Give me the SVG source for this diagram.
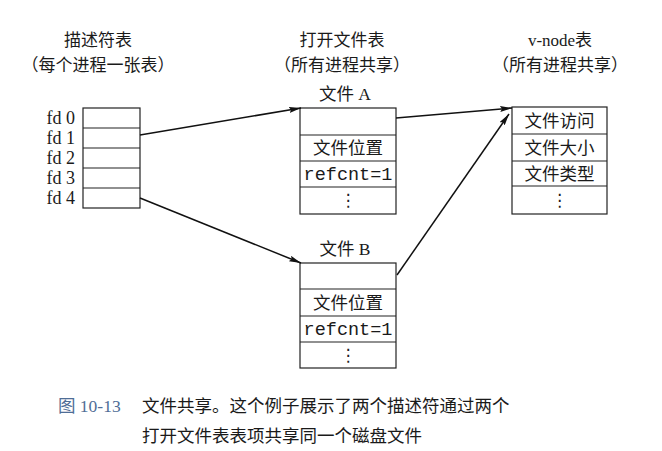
<svg xmlns="http://www.w3.org/2000/svg" width="662" height="451" viewBox="0 0 662 451">
  <defs>
    <marker id="arrow" viewBox="0 0 12 6" refX="12" refY="3" markerWidth="12" markerHeight="6" markerUnits="userSpaceOnUse" orient="auto">
      <path d="M0,0 L12,3 L0,6 L2,3 Z" fill="#111"/>
    </marker>
    <style>
      .cell { fill: #fff; stroke: #222; stroke-width: 1.2; }
      .sep { stroke: #222; stroke-width: 1.2; }
      .t { font-family: "Liberation Serif", "Noto Sans CJK SC", serif; fill: #1a1a1a; }
      .title { font-size: 17px; text-anchor: middle; }
      .fd { font-size: 18px; text-anchor: end; }
      .cj { font-size: 17.5px; text-anchor: middle; }
      .mono { font-family: "Liberation Mono", monospace; font-size: 18.5px; text-anchor: middle; fill: #1a1a1a; }
      .dots { font-family: "DejaVu Sans", sans-serif; font-size: 17px; text-anchor: middle; fill: #1a1a1a; }
      .edge { fill: none; stroke: #111; stroke-width: 1.5; marker-end: url(#arrow); }
      .cap { font-family: "Liberation Serif", "Noto Sans CJK SC", serif; font-size: 17.5px; fill: #1a1a1a; }
    </style>
  </defs>
  <rect width="662" height="451" fill="#fff"/>

  <!-- column headings -->
  <g id="headings" class="t">
    <text class="t title" x="98" y="46">描述符表</text>
    <text class="t title" x="98" y="71">（每个进程一张表）</text>
    <text class="t title" x="342" y="46">打开文件表</text>
    <text class="t title" x="342" y="71">（所有进程共享）</text>
    <text class="t title" x="560" y="46">v-node表</text>
    <text class="t title" x="560" y="71">（所有进程共享）</text>
  </g>

  <!-- per-process descriptor table -->
  <g id="descriptor-table">
    <rect class="cell" x="83" y="108" width="57" height="100"/>
    <line class="sep" x1="83" y1="128" x2="140" y2="128"/>
    <line class="sep" x1="83" y1="148" x2="140" y2="148"/>
    <line class="sep" x1="83" y1="168" x2="140" y2="168"/>
    <line class="sep" x1="83" y1="188" x2="140" y2="188"/>
    <text class="t fd" x="75" y="124">fd 0</text>
    <text class="t fd" x="75" y="144">fd 1</text>
    <text class="t fd" x="75" y="164">fd 2</text>
    <text class="t fd" x="75" y="184">fd 3</text>
    <text class="t fd" x="75" y="204">fd 4</text>
  </g>

  <!-- open file table entry A -->
  <g id="file-a">
    <text class="t cj" x="345" y="100">文件 A</text>
    <rect class="cell" x="300" y="108" width="96" height="106"/>
    <line class="sep" x1="300" y1="135" x2="396" y2="135"/>
    <line class="sep" x1="300" y1="161" x2="396" y2="161"/>
    <line class="sep" x1="300" y1="187" x2="396" y2="187"/>
    <text class="t cj" x="348" y="154">文件位置</text>
    <text class="mono" x="348" y="180">refcnt=1</text>
    <text class="dots" x="348" y="206">⋮</text>
  </g>

  <!-- open file table entry B -->
  <g id="file-b">
    <text class="t cj" x="345" y="255">文件 B</text>
    <rect class="cell" x="300" y="263" width="96" height="105"/>
    <line class="sep" x1="300" y1="289" x2="396" y2="289"/>
    <line class="sep" x1="300" y1="316" x2="396" y2="316"/>
    <line class="sep" x1="300" y1="342" x2="396" y2="342"/>
    <text class="t cj" x="348" y="309">文件位置</text>
    <text class="mono" x="348" y="335">refcnt=1</text>
    <text class="dots" x="348" y="361">⋮</text>
  </g>

  <!-- v-node table -->
  <g id="vnode-table">
    <rect class="cell" x="512" y="107" width="95" height="107"/>
    <line class="sep" x1="512" y1="134" x2="607" y2="134"/>
    <line class="sep" x1="512" y1="161" x2="607" y2="161"/>
    <line class="sep" x1="512" y1="186" x2="607" y2="186"/>
    <text class="t cj" x="559.5" y="127">文件访问</text>
    <text class="t cj" x="559.5" y="154">文件大小</text>
    <text class="t cj" x="559.5" y="180">文件类型</text>
    <text class="dots" x="559.5" y="206">⋮</text>
  </g>

  <!-- connectors -->
  <g id="connectors">
    <line class="edge" x1="140" y1="135" x2="301" y2="108"/>
    <line class="edge" x1="140" y1="198" x2="301" y2="263"/>
    <line class="edge" x1="396" y1="118" x2="512" y2="108"/>
    <line class="edge" x1="397" y1="275" x2="509" y2="114"/>
  </g>

  <!-- figure caption -->
  <g id="caption">
    <text class="cap" x="58" y="412" fill="#4f6d96" style="fill:#4f6d96">图 10-13</text>
    <text class="cap" x="142" y="412">文件共享。这个例子展示了两个描述符通过两个</text>
    <text class="cap" x="142" y="442">打开文件表表项共享同一个磁盘文件</text>
  </g>
</svg>
